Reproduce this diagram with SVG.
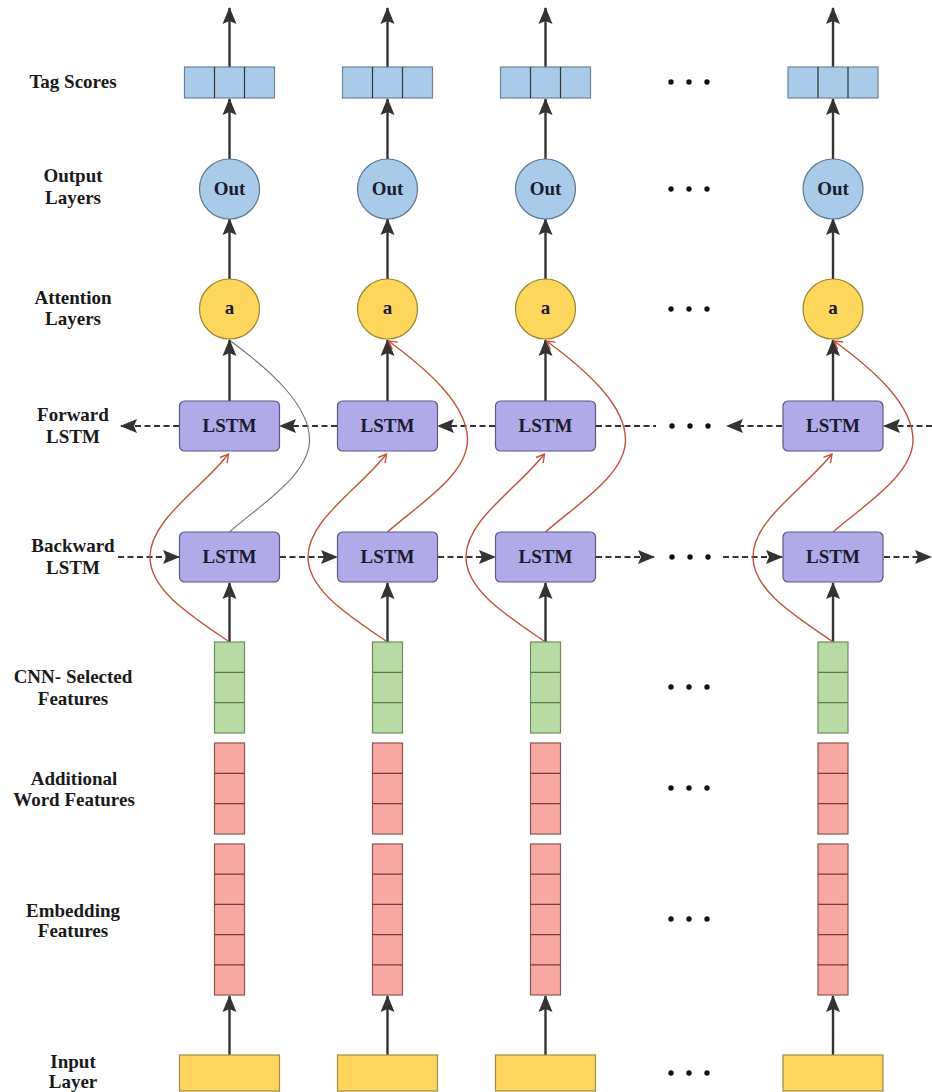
<svg xmlns="http://www.w3.org/2000/svg" width="932" height="1092" viewBox="0 0 932 1092">
<style>
.lbl{font-family:"Liberation Serif","DejaVu Serif",serif;font-weight:bold;font-size:19px;fill:#1a1a1a;text-anchor:middle}
.ntx{font-family:"Liberation Serif","DejaVu Serif",serif;font-weight:bold;font-size:19px;fill:#1b1b30;text-anchor:middle}
.tag{fill:#a8cbe9;stroke:#6f8193;stroke-width:1.2}
.out{fill:#a8cbe9;stroke:#5d7894;stroke-width:1.2}
.att{fill:#fdd65c;stroke:#9a8530;stroke-width:1.2}
.lstm{fill:#b1aae8;stroke:#5b5783;stroke-width:1.2}
.grn{fill:#b8dba3;stroke:#6d8a5e;stroke-width:1.2}
.pnk{fill:#f9a7a3;stroke:#8a5552;stroke-width:1.2}
.inp{fill:#fed65e;stroke:#9f8a45;stroke-width:1.2}
.sep{stroke-width:1.2}
.arr{stroke:#333;stroke-width:2.4;fill:none;marker-end:url(#ah)}
.dsh{stroke:#333;stroke-width:2.2;fill:none;stroke-dasharray:6 3.5}
.dsha{stroke:#333;stroke-width:2.2;fill:none;stroke-dasharray:6 3.5;marker-end:url(#ah)}
.red{stroke:#c0533f;stroke-width:1.4;fill:none;marker-end:url(#rh)}
.gry{stroke:#707070;stroke-width:1.1;fill:none}
.dot{fill:#111}
</style>
<defs>
<marker id="ah" markerUnits="userSpaceOnUse" markerWidth="20" markerHeight="16" viewBox="-19 -8 20 16" refX="0" refY="0" orient="auto" overflow="visible">
<path d="M1,0 L-16,-7 L-13,0 L-16,7 Z" fill="#333"/>
</marker>
<marker id="rh" markerUnits="userSpaceOnUse" markerWidth="12" markerHeight="12" viewBox="-10 -6 11 12" refX="0" refY="0" orient="auto" overflow="visible">
<path d="M-8,-4.5 L0,0 L-8,4.5" fill="none" stroke="#c0533f" stroke-width="1.4"/>
</marker>
</defs>
<rect width="932" height="1092" fill="#ffffff"/>

<g id="labels">
<text class="lbl" x="73" y="88">Tag Scores</text>
<text class="lbl" x="73" y="182">Output</text>
<text class="lbl" x="73" y="204">Layers</text>
<text class="lbl" x="73" y="304">Attention</text>
<text class="lbl" x="73" y="325">Layers</text>
<text class="lbl" x="73" y="421">Forward</text>
<text class="lbl" x="73" y="443">LSTM</text>
<text class="lbl" x="73" y="552">Backward</text>
<text class="lbl" x="73" y="574">LSTM</text>
<text class="lbl" x="73" y="683">CNN- Selected</text>
<text class="lbl" x="73" y="705">Features</text>
<text class="lbl" x="74" y="785">Additional</text>
<text class="lbl" x="74" y="806">Word Features</text>
<text class="lbl" x="73" y="917">Embedding</text>
<text class="lbl" x="73" y="937">Features</text>
<text class="lbl" x="73" y="1068">Input</text>
<text class="lbl" x="73" y="1088">Layer</text>
</g>

<g id="connectors">
<path class="arr" d="M229.5,67 V8"/><path class="arr" d="M229.5,159 V99"/><path class="arr" d="M229.5,279 V219"/><path class="arr" d="M229.5,401 V340"/><path class="arr" d="M229.5,642 V583"/><path class="arr" d="M229.5,1055 V996"/>
<path class="arr" d="M387.5,67 V8"/><path class="arr" d="M387.5,159 V99"/><path class="arr" d="M387.5,279 V219"/><path class="arr" d="M387.5,401 V340"/><path class="arr" d="M387.5,642 V583"/><path class="arr" d="M387.5,1055 V996"/>
<path class="arr" d="M545.5,67 V8"/><path class="arr" d="M545.5,159 V99"/><path class="arr" d="M545.5,279 V219"/><path class="arr" d="M545.5,401 V340"/><path class="arr" d="M545.5,642 V583"/><path class="arr" d="M545.5,1055 V996"/>
<path class="arr" d="M833,67 V8"/><path class="arr" d="M833,159 V99"/><path class="arr" d="M833,279 V219"/><path class="arr" d="M833,401 V340"/><path class="arr" d="M833,642 V583"/><path class="arr" d="M833,1055 V996"/>
<path class="dsha" d="M179,426 H121"/>
<path class="dsha" d="M337,426 H280"/>
<path class="dsha" d="M495,426 H438"/>
<path class="dsh" d="M596,426 H656"/>
<path class="dsha" d="M782,426 H727"/>
<path class="dsha" d="M932,426 H884"/>
<path class="dsha" d="M118,557 H179"/>
<path class="dsha" d="M280,557 H337"/>
<path class="dsha" d="M438,557 H495"/>
<path class="dsha" d="M596,557 H654"/>
<path class="dsha" d="M723,557 H782"/>
<path class="dsha" d="M884,557 H931"/>
<path class="red" d="M229.5,642 C190,615 150,590 150,557 C150,520 200,490 228.5,454"/>
<path class="gry" d="M229.5,532 C260,505 309.5,475 309.5,440 C309.5,405 270,370 230.5,341"/>
<path class="red" d="M387.5,642 C348,615 308,590 308,557 C308,520 358,490 386.5,454"/>
<path class="red" d="M387.5,532 C418,505 467.5,475 467.5,440 C467.5,405 428,370 388.5,341"/>
<path class="red" d="M545.5,642 C506,615 466,590 466,557 C466,520 516,490 544.5,454"/>
<path class="red" d="M545.5,532 C576,505 625.5,475 625.5,440 C625.5,405 586,370 546.5,341"/>
<path class="red" d="M833,642 C794,615 753,590 753,557 C753,520 803,490 832,454"/>
<path class="red" d="M833,532 C864,505 913,475 913,440 C913,405 874,370 834,341"/>
</g>

<g id="ellipsis">
<g class="dot"><circle cx="671" cy="82" r="2.7"/><circle cx="689" cy="82" r="2.7"/><circle cx="707" cy="82" r="2.7"/></g>
<g class="dot"><circle cx="671" cy="189" r="2.7"/><circle cx="689" cy="189" r="2.7"/><circle cx="707" cy="189" r="2.7"/></g>
<g class="dot"><circle cx="671" cy="309" r="2.7"/><circle cx="689" cy="309" r="2.7"/><circle cx="707" cy="309" r="2.7"/></g>
<g class="dot"><circle cx="672" cy="426" r="2.7"/><circle cx="690" cy="426" r="2.7"/><circle cx="708" cy="426" r="2.7"/></g>
<g class="dot"><circle cx="672" cy="557" r="2.7"/><circle cx="690" cy="557" r="2.7"/><circle cx="708" cy="557" r="2.7"/></g>
<g class="dot"><circle cx="671" cy="687" r="2.7"/><circle cx="689" cy="687" r="2.7"/><circle cx="707" cy="687" r="2.7"/></g>
<g class="dot"><circle cx="671" cy="788" r="2.7"/><circle cx="689" cy="788" r="2.7"/><circle cx="707" cy="788" r="2.7"/></g>
<g class="dot"><circle cx="671" cy="919" r="2.7"/><circle cx="689" cy="919" r="2.7"/><circle cx="707" cy="919" r="2.7"/></g>
<g class="dot"><circle cx="671" cy="1073" r="2.7"/><circle cx="689" cy="1073" r="2.7"/><circle cx="707" cy="1073" r="2.7"/></g>
</g>

<g id="tag1"><rect class="tag" x="184.5" y="67" width="90" height="31"/><path class="sep" stroke="#333" d="M214.5,67 V98 M244.5,67 V98"/></g>
<g id="out1"><circle class="out" cx="229.5" cy="189" r="30"/><text class="ntx" x="229.5" y="195">Out</text></g>
<g id="att1"><circle class="att" cx="229.5" cy="309" r="30"/><text class="ntx" x="229.5" y="314">a</text></g>
<g id="fwd1"><rect class="lstm" x="179.5" y="401" width="100" height="50" rx="5"/><text class="ntx" x="229.5" y="432">LSTM</text></g>
<g id="bwd1"><rect class="lstm" x="179.5" y="532" width="100" height="50" rx="5"/><text class="ntx" x="229.5" y="563">LSTM</text></g>
<g id="cnn1"><rect class="grn" x="214.5" y="642" width="30" height="91"/><path class="sep" stroke="#5a7a4c" d="M214.5,672.3 H244.5 M214.5,702.7 H244.5"/></g>
<g id="add1"><rect class="pnk" x="214.5" y="743" width="30" height="91"/><path class="sep" stroke="#7a3a38" d="M214.5,773.3 H244.5 M214.5,803.7 H244.5"/></g>
<g id="emb1"><rect class="pnk" x="214.5" y="844" width="30" height="151"/><path class="sep" stroke="#7a3a38" d="M214.5,874.2 H244.5 M214.5,904.4 H244.5 M214.5,934.6 H244.5 M214.5,964.8 H244.5"/></g>
<g id="inp1"><rect class="inp" x="179.5" y="1055" width="100" height="36"/></g>

<g id="tag2"><rect class="tag" x="342.5" y="67" width="90" height="31"/><path class="sep" stroke="#333" d="M372.5,67 V98 M402.5,67 V98"/></g>
<g id="out2"><circle class="out" cx="387.5" cy="189" r="30"/><text class="ntx" x="387.5" y="195">Out</text></g>
<g id="att2"><circle class="att" cx="387.5" cy="309" r="30"/><text class="ntx" x="387.5" y="314">a</text></g>
<g id="fwd2"><rect class="lstm" x="337.5" y="401" width="100" height="50" rx="5"/><text class="ntx" x="387.5" y="432">LSTM</text></g>
<g id="bwd2"><rect class="lstm" x="337.5" y="532" width="100" height="50" rx="5"/><text class="ntx" x="387.5" y="563">LSTM</text></g>
<g id="cnn2"><rect class="grn" x="372.5" y="642" width="30" height="91"/><path class="sep" stroke="#5a7a4c" d="M372.5,672.3 H402.5 M372.5,702.7 H402.5"/></g>
<g id="add2"><rect class="pnk" x="372.5" y="743" width="30" height="91"/><path class="sep" stroke="#7a3a38" d="M372.5,773.3 H402.5 M372.5,803.7 H402.5"/></g>
<g id="emb2"><rect class="pnk" x="372.5" y="844" width="30" height="151"/><path class="sep" stroke="#7a3a38" d="M372.5,874.2 H402.5 M372.5,904.4 H402.5 M372.5,934.6 H402.5 M372.5,964.8 H402.5"/></g>
<g id="inp2"><rect class="inp" x="337.5" y="1055" width="100" height="36"/></g>

<g id="tag3"><rect class="tag" x="500.5" y="67" width="90" height="31"/><path class="sep" stroke="#333" d="M530.5,67 V98 M560.5,67 V98"/></g>
<g id="out3"><circle class="out" cx="545.5" cy="189" r="30"/><text class="ntx" x="545.5" y="195">Out</text></g>
<g id="att3"><circle class="att" cx="545.5" cy="309" r="30"/><text class="ntx" x="545.5" y="314">a</text></g>
<g id="fwd3"><rect class="lstm" x="495.5" y="401" width="100" height="50" rx="5"/><text class="ntx" x="545.5" y="432">LSTM</text></g>
<g id="bwd3"><rect class="lstm" x="495.5" y="532" width="100" height="50" rx="5"/><text class="ntx" x="545.5" y="563">LSTM</text></g>
<g id="cnn3"><rect class="grn" x="530.5" y="642" width="30" height="91"/><path class="sep" stroke="#5a7a4c" d="M530.5,672.3 H560.5 M530.5,702.7 H560.5"/></g>
<g id="add3"><rect class="pnk" x="530.5" y="743" width="30" height="91"/><path class="sep" stroke="#7a3a38" d="M530.5,773.3 H560.5 M530.5,803.7 H560.5"/></g>
<g id="emb3"><rect class="pnk" x="530.5" y="844" width="30" height="151"/><path class="sep" stroke="#7a3a38" d="M530.5,874.2 H560.5 M530.5,904.4 H560.5 M530.5,934.6 H560.5 M530.5,964.8 H560.5"/></g>
<g id="inp3"><rect class="inp" x="495.5" y="1055" width="100" height="36"/></g>

<g id="tag4"><rect class="tag" x="788" y="67" width="90" height="31"/><path class="sep" stroke="#333" d="M818,67 V98 M848,67 V98"/></g>
<g id="out4"><circle class="out" cx="833" cy="189" r="30"/><text class="ntx" x="833" y="195">Out</text></g>
<g id="att4"><circle class="att" cx="833" cy="309" r="30"/><text class="ntx" x="833" y="314">a</text></g>
<g id="fwd4"><rect class="lstm" x="783" y="401" width="100" height="50" rx="5"/><text class="ntx" x="833" y="432">LSTM</text></g>
<g id="bwd4"><rect class="lstm" x="783" y="532" width="100" height="50" rx="5"/><text class="ntx" x="833" y="563">LSTM</text></g>
<g id="cnn4"><rect class="grn" x="818" y="642" width="30" height="91"/><path class="sep" stroke="#5a7a4c" d="M818,672.3 H848 M818,702.7 H848"/></g>
<g id="add4"><rect class="pnk" x="818" y="743" width="30" height="91"/><path class="sep" stroke="#7a3a38" d="M818,773.3 H848 M818,803.7 H848"/></g>
<g id="emb4"><rect class="pnk" x="818" y="844" width="30" height="151"/><path class="sep" stroke="#7a3a38" d="M818,874.2 H848 M818,904.4 H848 M818,934.6 H848 M818,964.8 H848"/></g>
<g id="inp4"><rect class="inp" x="783" y="1055" width="100" height="36"/></g>
</svg>
